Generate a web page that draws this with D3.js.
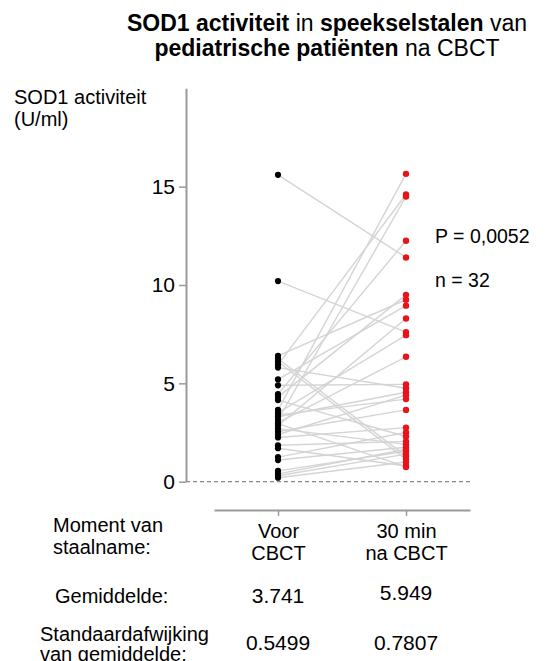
<!DOCTYPE html>
<html><head><meta charset="utf-8">
<script src="https://cdn.jsdelivr.net/npm/d3@7"></script>
<style>
body{margin:0;background:#fff;}
svg{font-family:"Liberation Sans",Arial,sans-serif;}
</style></head>
<body><svg id="c" width="552" height="661"></svg>
<script>
const categories = ["Voor CBCT", "30 min na CBCT"];
const categoryLines = [["Voor","CBCT"],["30 min","na CBCT"]];
const voor = [15.6,10.2,6.4,6.25,6.1,5.95,5.8,5.2,4.9,4.45,4.3,4.15,3.65,3.5,3.3,3.15,3.0,2.85,2.7,2.55,2.4,2.25,1.85,1.7,1.25,1.1,0.55,0.4,0.3,0.2,2.95,3.4];
const na = [11.4,7.6,9.25,1.3,1.15,14.6,4.75,8.95,4.95,12.25,9.5,2.3,15.65,7.45,4.55,14.5,6.35,8.3,1.9,3.65,4.4,2.75,2.05,0.8,2.5,1.75,1.55,1.65,1.4,1.0,0.75,4.2];
const yTicks = [0,5,10,15];
const means = ["3.741","5.949"];
const sems = ["0.5499","0.7807"];
const stats = ["P = 0,0052","n = 32"];

const svg = d3.select("#c");
const y = d3.scaleLinear().domain([0,20]).range([481.7,88.3]);
const x = d3.scalePoint().domain(categories).range([214,470]).padding(0.5);
const grey = "#9a9a9a";

// title
const t = svg.append("text").attr("text-anchor","middle").attr("font-size",23).attr("fill","#000");
const l1 = t.append("tspan").attr("x",327).attr("y",31);
l1.append("tspan").attr("font-weight","bold").text("SOD1 activiteit");
l1.append("tspan").text(" in ");
l1.append("tspan").attr("font-weight","bold").text("speekselstalen");
l1.append("tspan").text(" van");
const l2 = t.append("tspan").attr("x",327).attr("y",56);
l2.append("tspan").attr("font-weight","bold").text("pediatrische patiënten");
l2.append("tspan").text(" na CBCT");

// y label
svg.append("text").attr("x",14).attr("y",104).attr("font-size",20).text("SOD1 activiteit");
svg.append("text").attr("x",14).attr("y",126).attr("font-size",20).text("(U/ml)");

// zero dashed line
svg.append("line").attr("x1",186).attr("x2",470).attr("y1",y(0)).attr("y2",y(0))
  .attr("stroke","#888").attr("stroke-width",1.2).attr("stroke-dasharray","4,3");

// y axis
const ya = svg.append("g").attr("transform","translate(186,0)")
  .call(d3.axisLeft(y).tickValues(yTicks).tickSize(7).tickSizeOuter(0).tickPadding(4));
ya.select(".domain").attr("stroke",grey).attr("stroke-width",2);
ya.selectAll(".tick line").attr("stroke",grey).attr("stroke-width",1.5);
ya.selectAll(".tick text").attr("font-size",21).attr("fill","#000").attr("font-family","Liberation Sans, Arial, sans-serif");

// pair lines
const pairs = voor.map((v,i)=>({a:v,b:na[i]}));
svg.append("g").selectAll("line").data(pairs).join("line")
  .attr("x1",x(categories[0])).attr("x2",x(categories[1]))
  .attr("y1",d=>y(d.a)).attr("y2",d=>y(d.b))
  .attr("stroke","#d4d4d4").attr("stroke-width",1.4);

// points
svg.append("g").selectAll("circle").data(voor).join("circle")
  .attr("cx",x(categories[0])).attr("cy",d=>y(d)).attr("r",3.1).attr("fill","#000");
svg.append("g").selectAll("circle").data(na).join("circle")
  .attr("cx",x(categories[1])).attr("cy",d=>y(d)).attr("r",3.2).attr("fill","#e8141b");

// stats
stats.forEach((s,i)=>svg.append("text").attr("x",435).attr("y",243+i*44).attr("font-size",19.5).text(s));

// bottom axis
const xa = svg.append("g").attr("transform","translate(0,510)")
  .call(d3.axisBottom(x).tickSize(6).tickSizeOuter(0).tickFormat(""));
xa.select(".domain").attr("stroke",grey).attr("stroke-width",2);
xa.selectAll(".tick line").attr("stroke",grey).attr("stroke-width",1.5);
xa.selectAll(".tick").each(function(d,i){
  const tx = d3.select(this).append("text").attr("fill","#000").attr("font-size",20)
    .attr("text-anchor","middle").attr("font-family","Liberation Sans, Arial, sans-serif");
  categoryLines[i].forEach((s,j)=>tx.append("tspan").attr("x",0).attr("y",28+j*22).text(s));
});

// row labels
svg.append("text").attr("x",53).attr("y",532).attr("font-size",20).text("Moment van");
svg.append("text").attr("x",53).attr("y",554).attr("font-size",20).text("staalname:");
svg.append("text").attr("x",55).attr("y",603).attr("font-size",20).text("Gemiddelde:");
svg.append("text").attr("x",40).attr("y",641).attr("font-size",20).text("Standaardafwijking");
svg.append("text").attr("x",40).attr("y",661).attr("font-size",20).text("van gemiddelde:");

means.forEach((m,i)=>svg.append("text").attr("x",x(categories[i])).attr("y",603-i*3)
  .attr("text-anchor","middle").attr("font-size",21).text(m));
sems.forEach((m,i)=>svg.append("text").attr("x",x(categories[i])).attr("y",650)
  .attr("text-anchor","middle").attr("font-size",21).text(m));
</script></body></html>
